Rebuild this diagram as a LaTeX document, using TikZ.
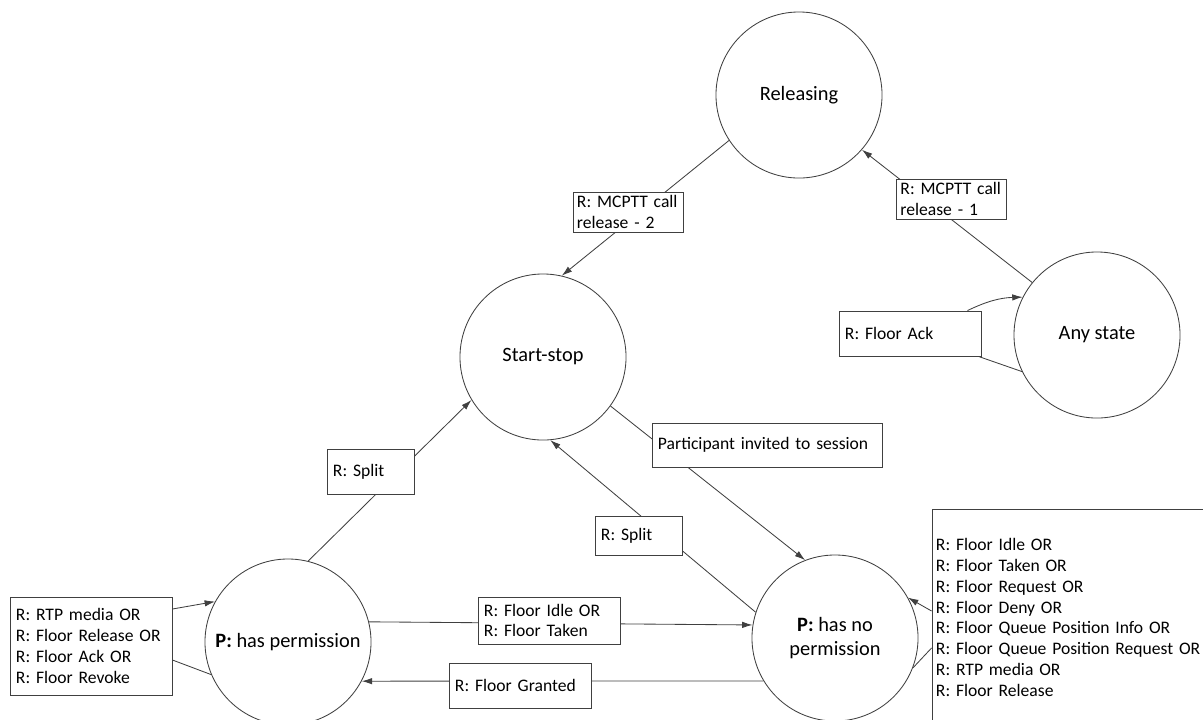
\documentclass[tikz,border=0pt]{standalone}
\usepackage{fontspec}
\setmainfont{Carlito}
\usetikzlibrary{arrows.meta, calc}

\begin{document}
\begin{tikzpicture}[x=0.025cm, y=-0.025cm, line width=0.6pt, draw=black!75,
    >={Latex[length=2.6mm, width=1.6mm]},
    phase/.style={circle, draw, minimum size=4.15cm, inner sep=0pt, align=center,
      font=\fontsize{14.5}{16.5}\selectfont},
    msg/.style={draw, fill=white, align=left, inner xsep=0.15cm, inner ysep=0pt,
      font=\fontsize{12.5}{14.8}\selectfont}]
  \useasboundingbox (0, 0) rectangle (1203, 719);

  \node [phase] (rel) at (799, 95) {Releasing};
  \node [phase] (ss) at (543, 357) {Start-stop};
  \node [phase] (any) at (1097, 335) {Any state};
  \node [phase] (hp) at (288, 642) {\textbf{P:} has permission};
  \node [phase] (np) at (835, 638) {\textbf{P:} has no\\permission};

  \draw [->] (rel.213) -- (ss.77);
  \draw [->] (any.141) -- (rel.-41);
  \draw [->] (ss.-36) -- (np.111);
  \draw [->] (np.162) -- (ss.-85);
  \draw [->] (hp.76) -- (ss.211);
  \draw [->] (hp.14) -- (np.171);
  \draw [->] (np.211) -- (hp.-28);

  \node [msg, inner xsep=0.1cm, text width=2.55cm, minimum height=1cm] (rel2) at (628, 212) {R: MCPTT call\\release - 2};
  \node [msg, inner xsep=0.1cm, text width=2.55cm, minimum height=1cm] (rel1) at (951.5, 199) {R: MCPTT call\\release - 1};
  \node [msg, text width=3.25cm, minimum height=1.125cm] (ack) at (910, 333.5) {R: Floor Ack};
  \node [msg, text width=5.45cm, minimum height=1.1cm] (inv) at (767, 445) {Participant invited to session};
  \node [msg, text width=1.875cm, minimum height=1.125cm] (splitl) at (370.5, 471.5) {R: Split};
  \node [msg, text width=1.875cm, minimum height=0.975cm] (splitm) at (638.5, 535.5) {R: Split};
  \node [msg, text width=3.25cm, minimum height=1.175cm] (idle) at (549, 620.5) {R: Floor Idle OR\\R: Floor Taken};
  \node [msg, text width=3.25cm, minimum height=1.125cm] (granted) at (520, 685.5) {R: Floor Granted};
  \node [msg, text width=3.75cm, minimum height=2.45cm] (hpmsg) at (91, 646)
    {R: RTP media OR\\R: Floor Release OR\\R: Floor Ack OR\\R: Floor Revoke};
  \node [msg, inner xsep=0.1cm, text width=7cm, minimum height=5.425cm] (npmsg) at (1076, 617.5)
    {R: Floor Idle OR\\R: Floor Taken OR\\R: Floor Request OR\\R: Floor Deny OR\\
     R: Floor Queue Position Info OR\\R: Floor Queue Position Request OR\\
     R: RTP media OR\\R: Floor Release};

  \draw [->] ($(hpmsg.east)+(0,-37)$) -- (hp.151);
  \draw ($(hpmsg.east)+(0,14)$) -- (hp.203);
  \draw [->] ($(npmsg.west)+(0,-6.5)$) -- (np.29);
  \draw ($(npmsg.west)+(0,30.5)$) -- (np.-21);
  \draw [->] ($(ack.north east)+(-14,0)$) to [bend left=12] (any.153);
  \draw ($(ack.south east)+(-3,0)$) -- (any.206);
\end{tikzpicture}
\end{document}
